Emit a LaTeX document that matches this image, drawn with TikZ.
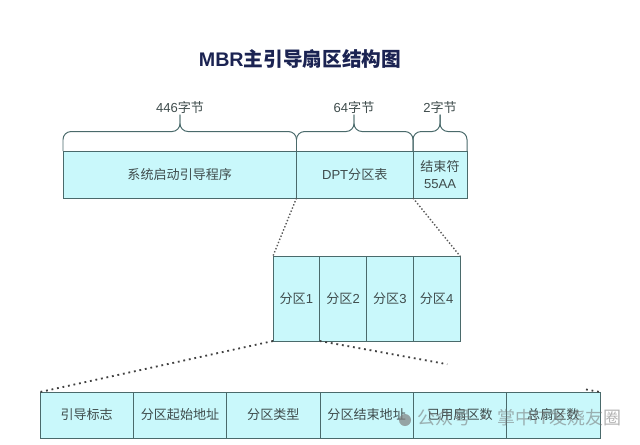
\documentclass[tikz,border=0pt]{standalone}
\usepackage{fontspec}
\setmainfont{Noto Sans CJK SC}
\newfontfamily\latin{Liberation Sans}
\usetikzlibrary{calc}
\tikzset{
	cell/.style={draw=cellline, fill=cellfill, line width=0.7pt, inner sep=0pt, outer sep=0pt, align=center, font=\fontsize{9.3}{12.5}\selectfont, text=celltext},
	toprow/.style={cell, minimum height=1.175cm},
	partcell/.style={cell, minimum width=1.16875cm, minimum height=2.125cm},
	fieldcell/.style={cell, minimum width=2.33333cm, minimum height=1.15cm},
	sizelabel/.style={inner sep=1pt, font=\fontsize{9.3}{11}\selectfont, text=celltext},
	bracket/.style={draw=cellline, line width=0.7pt, rounded corners=0.2cm},
	zoomline/.style={draw=black!65, line width=1pt, dash pattern=on 1pt off 1.4pt},
	wideline/.style={draw=black!75, line width=1.3pt, dash pattern=on 1.3pt off 2.7pt}
}
\definecolor{cellfill}{HTML}{C9F8FB}
\definecolor{cellline}{HTML}{4A6A6B}
\definecolor{celltext}{HTML}{3F4C4C}
\definecolor{titleblue}{HTML}{1B2352}
\def\bytebrace(#1)(#2){\draw[bracket] (#1.north west) |- ($(#2.south)+(0,-0.42)$) -- (#2.south);
	\draw[bracket] (#1.north east) |- ($(#2.south)+(0,-0.42)$) -- (#2.south);}

\begin{document}
\begin{tikzpicture}
	\useasboundingbox (0,0) rectangle (16,-11.1);
	
	%%%%% title %%%%%
	\node[text=titleblue, font=\fontsize{14}{18}\bfseries\selectfont] (title) at (7.5, -1.48) {{\latin MBR}主引导扇区结构图};
	
	%%%%% sector %%%%%
	\node[toprow, minimum width=5.8375cm] (boot) at (4.49375, -4.3625) {系统启动引导程序};
	\node[toprow, minimum width=2.9125cm] (dpt) at (8.86875, -4.3625) {{\latin DPT}分区表};
	\node[toprow, minimum width=1.35cm] (endmark) at (11, -4.3625) {结束符\\{\latin 55AA}};
	
	\node[sizelabel] (bootsize) at (4.5, -2.675) {{\latin 446}字节};
	\node[sizelabel] (dptsize) at (8.85, -2.675) {{\latin 64}字节};
	\node[sizelabel] (endsize) at (11, -2.675) {{\latin 2}字节};
	
	\bytebrace(boot)(bootsize)
	\bytebrace(dpt)(dptsize)
	\bytebrace(endmark)(endsize)
	
	%%%%% partitions %%%%%
	\node[partcell] (part1) at (7.40938, -7.4625) {分区{\latin 1}};
	\node[partcell] (part2) at (8.57813, -7.4625) {分区{\latin 2}};
	\node[partcell] (part3) at (9.74688, -7.4625) {分区{\latin 3}};
	\node[partcell] (part4) at (10.91563, -7.4625) {分区{\latin 4}};
	
	\draw[zoomline] (dpt.south west) -- (part1.north west);
	\draw[zoomline] (dpt.south east) -- (part4.north east);
	
	%%%%% fields %%%%%
	\node[fieldcell] (flag) at (2.16667, -10.375) {引导标志};
	\node[fieldcell] (startaddr) at (4.5, -10.375) {分区起始地址};
	\node[fieldcell] (parttype) at (6.83333, -10.375) {分区类型};
	\node[fieldcell] (endaddr) at (9.16667, -10.375) {分区结束地址};
	\node[fieldcell] (used) at (11.5, -10.375) {已用扇区数};
	\node[fieldcell] (total) at (13.83333, -10.375) {总扇区数};
	
	\draw[wideline] (part1.south west) -- (flag.north west);
	\draw[wideline] (part1.south east) -- ($(part1.south east)!0.455!(total.north east)$);
	\draw[wideline] ($(part1.south east)!0.95!(total.north east)$) -- (total.north east);
	
	%%%%% watermark %%%%%
	\fill[black!50, opacity=0.7] (10.125, -10.5) circle (0.15);
	\node[text=black!55, opacity=0.55, font=\fontsize{12.8}{15}\selectfont] (mark) at (12.98, -10.43) {公众号 · 掌中{\latin IT}发烧友圈};
\end{tikzpicture}
\end{document}
